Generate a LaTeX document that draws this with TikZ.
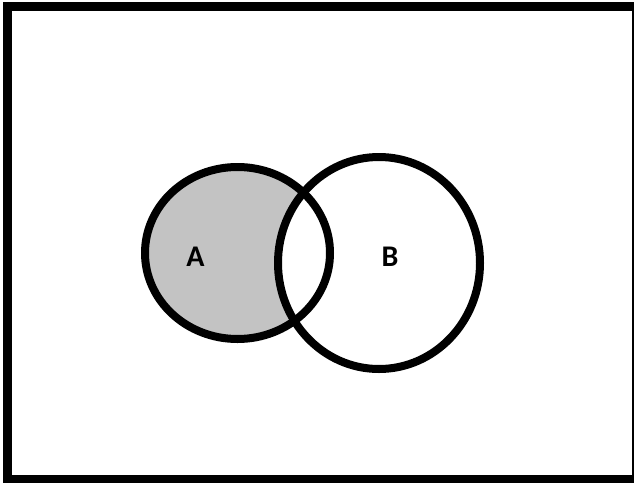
\documentclass[tikz,border=0pt]{standalone}
\usepackage{fontspec}
\setmainfont{Carlito}
\usepackage[rgb]{xcolor}
\definecolor{setgray}{HTML}{C3C3C3}
\usepackage{tikz}

\begin{document}
\begin{tikzpicture}[x=1pt, y=-1pt, setline/.style={draw=black, line width=8pt}, setlabel/.style={font=\fontsize{30}{30}\selectfont\bfseries, inner sep=0pt}]
	\useasboundingbox (0,0) rectangle (634,482);
	\draw[line width=9pt] (7.5,6) rectangle (636,479.5);
	\coordinate (ca) at (237.5,253);
	\coordinate (cb) at (379,263);
	% A without B
	\fill[setgray] (ca) ellipse [x radius=92.5, y radius=86];
	\fill[white] (cb) ellipse [x radius=101, y radius=106];
	\draw[setline] (ca) ellipse [x radius=92.5, y radius=86];
	\draw[setline] (cb) ellipse [x radius=101, y radius=106];
	\node[setlabel] at (195.5,256.5) (a) {A};
	\node[setlabel] at (390,256.5) (b) {B};
\end{tikzpicture}
\end{document}
